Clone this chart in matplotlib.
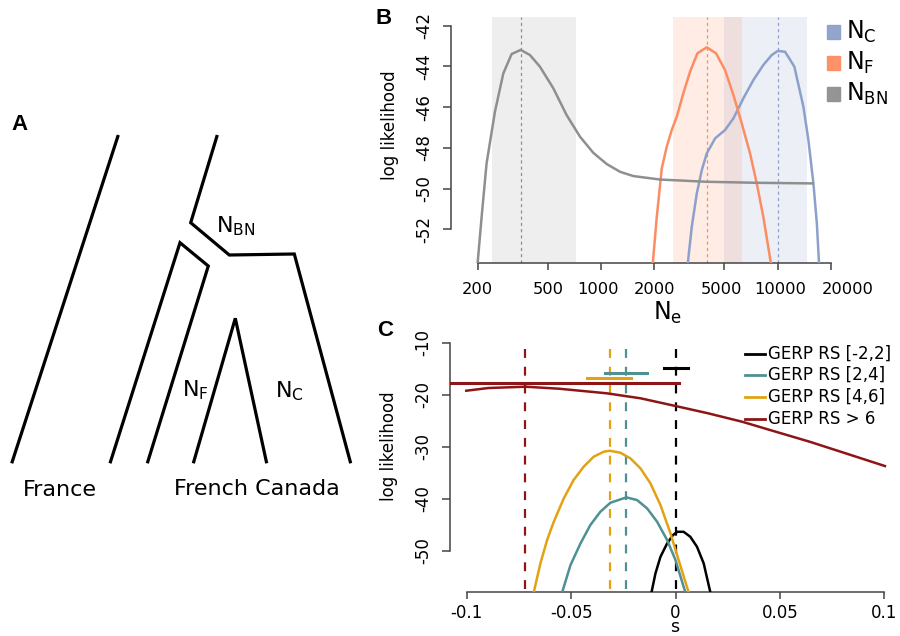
import matplotlib
matplotlib.use("Agg")
import matplotlib.pyplot as plt
from matplotlib.patches import Rectangle
from matplotlib.lines import Line2D
from matplotlib.transforms import ScaledTranslation

plt.rcParams['font.family'] = ['DejaVu Sans']
plt.rcParams['axes.unicode_minus'] = False
plt.rcParams['mathtext.fontset'] = 'dejavusans'

# ---- panel B data (Ne likelihood profiles)
b_names = [r'$\mathrm{N_C}$', r'$\mathrm{N_F}$', r'$\mathrm{N_{BN}}$']
b_colors = ['#8DA0CB', '#FC8D62', '#8F8F8F']

nc_ne = [3098, 3266, 3487, 3722, 3970, 4428, 5039, 5620, 6397, 7290, 8302, 9267, 10020, 11020, 12440, 14000, 14940, 15950, 16680, 17170]
nc_ll = [-53.7, -51.87, -50.23, -49.09, -48.27, -47.53, -47.12, -46.55, -45.57, -44.67, -43.93, -43.44, -43.24, -43.28, -44.01, -45.98, -47.61, -49.74, -51.7, -53.7]
nf_ne = [1963, 2070, 2209, 2357, 2515, 2685, 2926, 3194, 3513, 3970, 4486, 5039, 5620, 6263, 6984, 7620, 8302, 9180]
nf_ll = [-53.7, -51.38, -49.0, -47.94, -47.12, -46.47, -45.32, -44.26, -43.36, -43.06, -43.36, -44.18, -45.4, -46.79, -48.27, -49.74, -51.38, -53.7]
nbn_ne = [200, 211, 225, 251, 280, 312, 351, 396, 451, 537, 639, 761, 905, 1078, 1282, 1525, 2159, 3970, 7620, 15810]
nbn_ll = [-53.7, -51.38, -48.76, -46.22, -44.34, -43.39, -43.19, -43.44, -44.01, -45.07, -46.39, -47.45, -48.24, -48.79, -49.17, -49.38, -49.55, -49.66, -49.71, -49.74]

b_mle = [10020, 3970, 351]
b_ci = [(4980, 14630), (2545, 6310), (243, 722)]
b_xticks = [200, 500, 1000, 2000, 5000, 10000, 20000]
b_xlabel_shift = [0, 0, -3, 0, -3, 3, 17]   # px nudges seen in the figure
b_yticks = [-52, -50, -48, -46, -44, -42]

# ---- panel C data (selection coefficient likelihoods)
c_names = ['GERP RS [-2,2]', 'GERP RS [2,4]', 'GERP RS [4,6]', 'GERP RS > 6']
c_colors = ['#000000', '#4F9093', '#E2A213', '#8E1515']
blk_s = [-0.0115, -0.0096, -0.0072, -0.004, -0.0012, 0.0008, 0.0039, 0.0071, 0.0103, 0.0135, 0.0167]
blk_ll = [-58, -54.35, -51.15, -48.58, -46.98, -46.35, -46.35, -47.31, -49.23, -52.42, -58]
teal_s = [-0.0543, -0.0503, -0.0455, -0.0408, -0.036, -0.0312, -0.0235, -0.0184, -0.0136, -0.0088, -0.004, 0.0, 0.0039, 0.0047]
teal_ll = [-58, -52.75, -48.58, -45.06, -42.5, -40.77, -39.73, -40.25, -41.85, -44.42, -47.94, -51.79, -56.92, -58]
gold_s = [-0.0679, -0.0647, -0.0615, -0.0583, -0.0535, -0.0488, -0.044, -0.0392, -0.0344, -0.0315, -0.0264, -0.0216, -0.0168, -0.012, -0.0072, -0.0024, 0.0015, 0.0063]
gold_ll = [-58, -52.42, -47.94, -44.42, -39.92, -36.40, -33.85, -31.92, -30.96, -30.77, -31.15, -32.23, -34.15, -37.04, -41.21, -46.65, -51.79, -58]
red_s = [-0.1002, -0.0896, -0.0718, -0.0556, -0.0329, -0.0167, 0, 0.0157, 0.0319, 0.0481, 0.0643, 0.0806, 0.1003]
red_ll = [-19.23, -18.71, -18.46, -18.85, -19.73, -20.69, -22.17, -23.58, -25.19, -27.12, -29.04, -31.15, -33.71]

c_mle = [0.0, -0.0235, -0.0315, -0.0719]
c_ci = [(-0.0053, 0.006), (-0.034, -0.0135), (-0.0422, -0.0215), (-0.12, 0.0015)]
c_ci_y = [-14.92, -15.77, -16.85, -17.69]
c_xticks = [-0.1, -0.05, 0, 0.05, 0.1]
c_xlabels = ['-0.1', '-0.05', '0', '0.05', '0.1']
c_yticks = [-50, -40, -30, -20, -10]

# ---- panel A tree (pixel coords of the sketch)
tree_paths = [
    [(11.7, 463.3), (118.3, 135)],
    [(110, 463.3), (180, 242.7), (208.3, 266), (147.3, 463.3)],
    [(217.3, 135), (190.7, 222.7), (229.3, 255), (294.3, 254), (350.7, 463.3)],
    [(193.3, 463.3), (235.3, 318.3), (266.7, 463.3)],
]

W, H = 900, 636
fig = plt.figure(figsize=(9, 6.36), dpi=100)


def px_rect(l, r, b, t):
    return [l / W, 1 - b / H, (r - l) / W, (b - t) / H]


def r_style(ax, xpad, ypad):
    for s in ['top', 'right']:
        ax.spines[s].set_visible(False)
    for s in ['left', 'bottom']:
        ax.spines[s].set_color('#444444')
        ax.spines[s].set_linewidth(1.1)
    ax.tick_params(colors='#444444', labelcolor='black', labelsize=12, length=5, width=1.1)
    ax.tick_params(axis='y', labelrotation=90, length=6, pad=ypad)
    ax.tick_params(axis='x', pad=xpad)


# panel A
axa = fig.add_axes([0, 0, 370 / W, 1])
axa.set_xlim(0, 370)
axa.set_ylim(H, 0)
axa.axis('off')
for p in tree_paths:
    xs, ys = zip(*p)
    axa.plot(xs, ys, color='black', lw=2.3, solid_joinstyle='miter', solid_capstyle='butt')
axa.text(236, 226, r'$\mathrm{N_{BN}}$', fontsize=16, ha='center', va='center')
axa.text(195, 390, r'$\mathrm{N_F}$', fontsize=16, ha='center', va='center')
axa.text(289, 391, r'$\mathrm{N_C}$', fontsize=16, ha='center', va='center')
axa.text(60, 490, 'France', fontsize=16, ha='center', va='center')
axa.text(257, 489, 'French Canada', fontsize=16, ha='center', va='center')

# panel B
axb = fig.add_axes(px_rect(450.5, 857.8, 263.5, 16.7))
axb.set_xscale('log')
axb.set_xlim(140.6, 28450)
axb.set_ylim(-53.67, -41.56)
for (lo, hi), c in zip(b_ci, b_colors):
    axb.axvspan(lo, hi, color=c, alpha=0.16 if c != '#8F8F8F' else 0.15, lw=0, zorder=0)
for m, c in zip(b_mle, b_colors):
    axb.axvline(m, color=c, lw=0.9, dashes=(2.5, 2.5), zorder=1)
for xs, ys, c in zip([nc_ne, nf_ne, nbn_ne], [nc_ll, nf_ll, nbn_ll], b_colors):
    axb.plot(xs, ys, color=c, lw=1.8, zorder=3)
r_style(axb, 8, 6.5)
axb.set_xticks(b_xticks)
axb.set_xticklabels([str(v) for v in b_xticks], fontsize=11.7)
axb.xaxis.set_minor_locator(matplotlib.ticker.NullLocator())
for lab, dx in zip(axb.get_xticklabels(), b_xlabel_shift):
    lab.set_transform(lab.get_transform() + ScaledTranslation(dx / 100, 0, fig.dpi_scale_trans))
axb.set_yticks(b_yticks)
axb.set_yticklabels([str(v) for v in b_yticks], va='center')
axb.spines['bottom'].set_bounds(200, 20000)
axb.spines['left'].set_bounds(-52, -42)
axb.set_ylabel('log likelihood', fontsize=12)
axb.yaxis.set_label_coords((398.7 - 450.5) / 407.3, 0.56)
fig.text(668 / W, 1 - 313 / H, r'$\mathrm{N_e}$', fontsize=17, ha='center', va='center')

# panel B legend
for i, (nm, c) in enumerate(zip(b_names, b_colors)):
    y = 32 + i * 31
    fig.patches.append(Rectangle((827 / W, 1 - (y + 6.5) / H), 13 / W, 13 / H,
                                 transform=fig.transFigure, color=c, alpha=0.95))
    fig.text(846 / W, 1 - y / H, nm, fontsize=17, ha='left', va='center')

# panel C
axc = fig.add_axes(px_rect(450, 901, 592.3, 335))
axc.set_xlim(-0.108, 0.108)
axc.set_ylim(-57.98, -8.52)
for m, c in zip(c_mle, c_colors):
    axc.plot([m, m], [-11.27, -60], color=c, lw=1.6, dashes=(4, 4), zorder=1)
curves = [(blk_s, blk_ll), (teal_s, teal_ll), (gold_s, gold_ll), (red_s, red_ll)]
for (xs, ys), c in zip(curves, c_colors):
    axc.plot(xs, ys, color=c, lw=1.8, zorder=3)
for (lo, hi), y, c in zip(c_ci, c_ci_y, c_colors):
    axc.plot([lo, hi], [y, y], color=c, lw=2.2, zorder=4)
r_style(axc, 3.5, 6.5)
axc.set_xticks(c_xticks)
axc.set_xticklabels(c_xlabels)
axc.set_yticks(c_yticks)
axc.set_yticklabels([str(v) for v in c_yticks], va='center')
axc.spines['bottom'].set_bounds(-0.1, 0.1)
axc.spines['left'].set_bounds(-50, -10)
axc.set_ylabel('log likelihood', fontsize=12)
axc.yaxis.set_label_coords((398.3 - 450) / 451, 0.569)
fig.text(675 / W, 1 - 627 / H, 's', fontsize=12.5, ha='center', va='center')

# panel C legend
for i, (nm, c) in enumerate(zip(c_names, c_colors)):
    y = 353.5 + i * 21.7
    fig.lines.append(Line2D([745 / W, 765 / W], [1 - y / H, 1 - y / H], transform=fig.transFigure,
                            color=c, lw=2))
    fig.text(767.5 / W, 1 - y / H, nm, fontsize=12, ha='left', va='center')

# panel letters
for lab, x, y in [('A', 19, 124), ('B', 383.5, 19), ('C', 385, 330)]:
    fig.text(x / W, 1 - y / H, lab, fontsize=16, fontweight='bold', family='Liberation Sans',
             ha='center', va='center')

fig.savefig('out.png', dpi=100)
